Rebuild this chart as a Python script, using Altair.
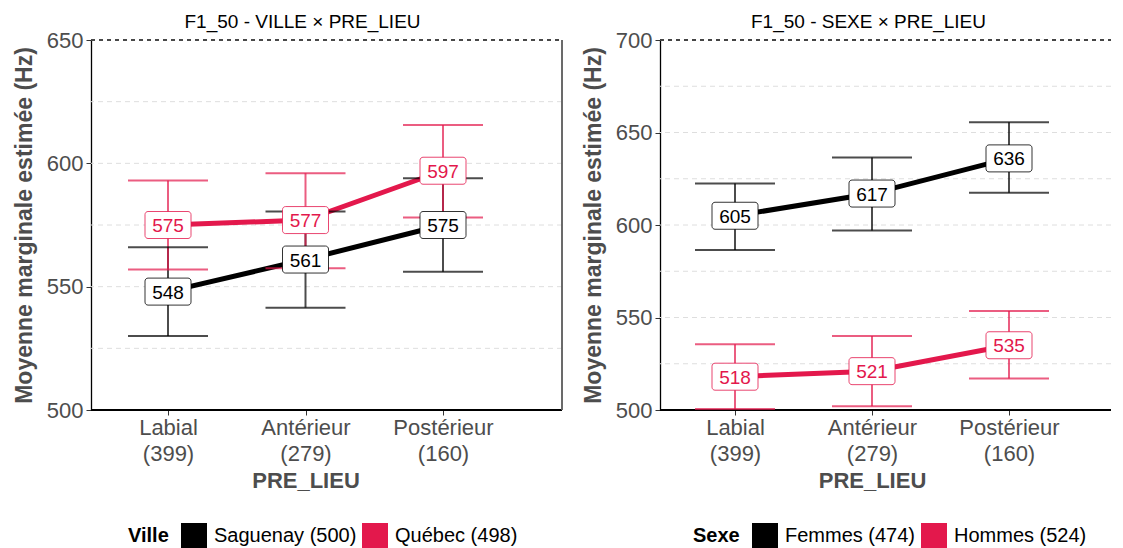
import altair as alt
import pandas as pd

# ---------------- data ----------------
categories = ["Labial", "Antérieur", "Postérieur"]
counts = [399, 279, 160]
cat_labels = [f"{c}\n({n})" for c, n in zip(categories, counts)]

ville_groups = ["Saguenay (500)", "Québec (498)"]
sag_mean = [548, 561, 575]
sag_lo = [530, 541.5, 556]
sag_hi = [566, 580.5, 594]
que_mean = [575, 577, 597]
que_lo = [557, 557.5, 578]
que_hi = [593, 596, 615.5]

sexe_groups = ["Femmes (474)", "Hommes (524)"]
fem_mean = [605, 617, 636]
fem_lo = [586.5, 597, 617.5]
fem_hi = [622.5, 636.5, 655.5]
hom_mean = [518, 521, 535]
hom_lo = [500.5, 502, 517]
hom_hi = [535.5, 540, 553.5]

left_ticks = [500, 550, 600, 650]
left_grid = [525, 550, 575, 600, 625]
right_ticks = [500, 550, 600, 650, 700]
right_grid = [525, 550, 575, 600, 625, 650, 675]

COLORS = ["#000000", "#E3184C"]
FONT = "Liberation Sans"
YTITLE = "Moyenne marginale estimée (Hz)"


def make_df(groups, means, los, his):
    rows = []
    for g, m, l, h in zip(groups, means, los, his):
        for i, c in enumerate(cat_labels):
            rows.append({"cat": c, "group": g, "mean": m[i], "lo": l[i], "hi": h[i],
                         "txt": str(int(round(m[i])))})
    return pd.DataFrame(rows)


def panel(df, title, domain, ticks, grid, groups, legend_title, xrange, legend_x, width,
          right_border):
    base = alt.Chart(df)
    x = alt.X("cat:N", sort=cat_labels,
              scale=alt.Scale(type="point", domain=cat_labels, range=xrange, padding=0),
              axis=alt.Axis(title="PRE_LIEU", domain=False, labelExpr="split(datum.label, '\\n')",
                            labelFontSize=22, labelLineHeight=26, labelColor="#4d4d4d",
                            labelAngle=0, labelPadding=2, tickSize=5, tickColor="#333333",
                            titleFontSize=22, titleFontWeight="bold", titleColor="#4d4d4d",
                            titlePadding=6, titleX=(xrange[0] + xrange[1]) / 2))
    yscale = alt.Scale(domain=domain, nice=False, zero=False)
    yaxis = alt.Axis(title=YTITLE, values=ticks, grid=False,
                     domainColor="black", domainWidth=1.3, tickColor="#333333", tickSize=5,
                     labelFontSize=22, labelColor="#4d4d4d", labelPadding=3,
                     titleFontSize=23, titleFontWeight="bold", titleColor="#4d4d4d",
                     titlePadding=10)
    y = alt.Y("mean:Q", scale=yscale, axis=yaxis, title=YTITLE)
    sc = alt.Scale(domain=groups, range=COLORS)

    grid_df = pd.DataFrame({"g": grid})
    layers = []
    layers.append(alt.Chart(grid_df).mark_rule(color="#dedede", strokeDash=[5, 4], strokeWidth=1).encode(
        y=alt.Y("g:Q", scale=yscale, axis=yaxis, title=YTITLE)))
    layers.append(alt.Chart(grid_df).mark_rule(color="#444444", strokeDash=[4, 4], strokeWidth=1).encode(
        x=alt.value(0), x2=alt.value("width"), y=alt.value(0)))
    layers.append(alt.Chart(grid_df).mark_rule(color="black", strokeWidth=1.3).encode(
        x=alt.value(0), x2=alt.value("width"), y=alt.value("height")))
    if right_border:
        layers.append(alt.Chart(grid_df).mark_rule(color="#666666", strokeWidth=1).encode(
            x=alt.value("width"), y=alt.value(0), y2=alt.value("height")))

    line = base.mark_line(strokeWidth=5).encode(
        x=x, y=y,
        color=alt.Color("group:N", scale=sc,
                        legend=alt.Legend(title=legend_title, orient="none", legendX=legend_x,
                                          legendY=483, direction="horizontal", titleOrient="left",
                                          titleAnchor="start", titleBaseline="line-top",
                                          titleLineHeight=26,
                                          gridAlign="none",
                                          symbolType="square", symbolSize=676, symbolStrokeWidth=0,
                                          symbolFillColor="black",
                                          symbolOpacity=1, labelFontSize=20, titleFontSize=20,
                                          titleFontWeight="bold", titleColor="black",
                                          labelColor="black", labelOffset=7, columnPadding=5,
                                          titlePadding=12)))
    err = base.mark_rule(strokeWidth=2, opacity=0.7).encode(
        x=x, y=alt.Y("lo:Q", scale=yscale, axis=yaxis, title=YTITLE), y2="hi:Q",
        stroke=alt.Stroke("group:N", scale=sc, legend=None))
    cap_lo = base.mark_tick(size=80, thickness=2, opacity=0.7, orient="horizontal").encode(
        x=x, y=alt.Y("lo:Q", scale=yscale, axis=yaxis, title=YTITLE),
        fill=alt.Fill("group:N", scale=sc, legend=None))
    cap_hi = base.mark_tick(size=80, thickness=2, opacity=0.7, orient="horizontal").encode(
        x=x, y=alt.Y("hi:Q", scale=yscale, axis=yaxis, title=YTITLE),
        fill=alt.Fill("group:N", scale=sc, legend=None))
    box = base.mark_rect(width=46, height=27, fill="white", strokeWidth=1, cornerRadius=3,
                         strokeOpacity=0.8).encode(
        x=x, y=y, stroke=alt.Stroke("group:N", scale=sc, legend=None))
    txt = base.mark_text(fontSize=19, font=FONT, baseline="middle", dy=1).encode(
        x=x, y=y, text="txt:N", fill=alt.Fill("group:N", scale=sc, legend=None))

    layers += [line, err, cap_lo, cap_hi, box, txt]
    return alt.layer(*layers).properties(
        width=width, height=370,
        title=alt.TitleParams(title, fontSize=19, fontWeight="normal", color="black", offset=-3,
                              frame="group", anchor="start", dx=(xrange[0] + xrange[1]) / 2 - 121,
                              font=FONT))


left_df = make_df(ville_groups, [sag_mean, que_mean], [sag_lo, que_lo], [sag_hi, que_hi])
right_df = make_df(sexe_groups, [fem_mean, hom_mean], [fem_lo, hom_lo], [fem_hi, hom_hi])

left = panel(left_df, "F1_50 - VILLE × PRE_LIEU", [500, 650], left_ticks, left_grid,
             ville_groups, "Ville", [77, 352], 37, 471, True)
right = panel(right_df, "F1_50 - SEXE × PRE_LIEU", [500, 700], right_ticks, right_grid,
              sexe_groups, "Sexe", [75, 349], 33, 451, False)

chart = alt.hconcat(left, right, spacing=19).resolve_scale(
    color="independent", stroke="independent", fill="independent", y="independent",
    x="independent").properties(
    padding={"left": 5, "top": 5, "right": 0, "bottom": 0}
).configure(font=FONT).configure_view(stroke=None)

chart.save("out.html", embed_options={"renderer": "svg", "actions": False})
